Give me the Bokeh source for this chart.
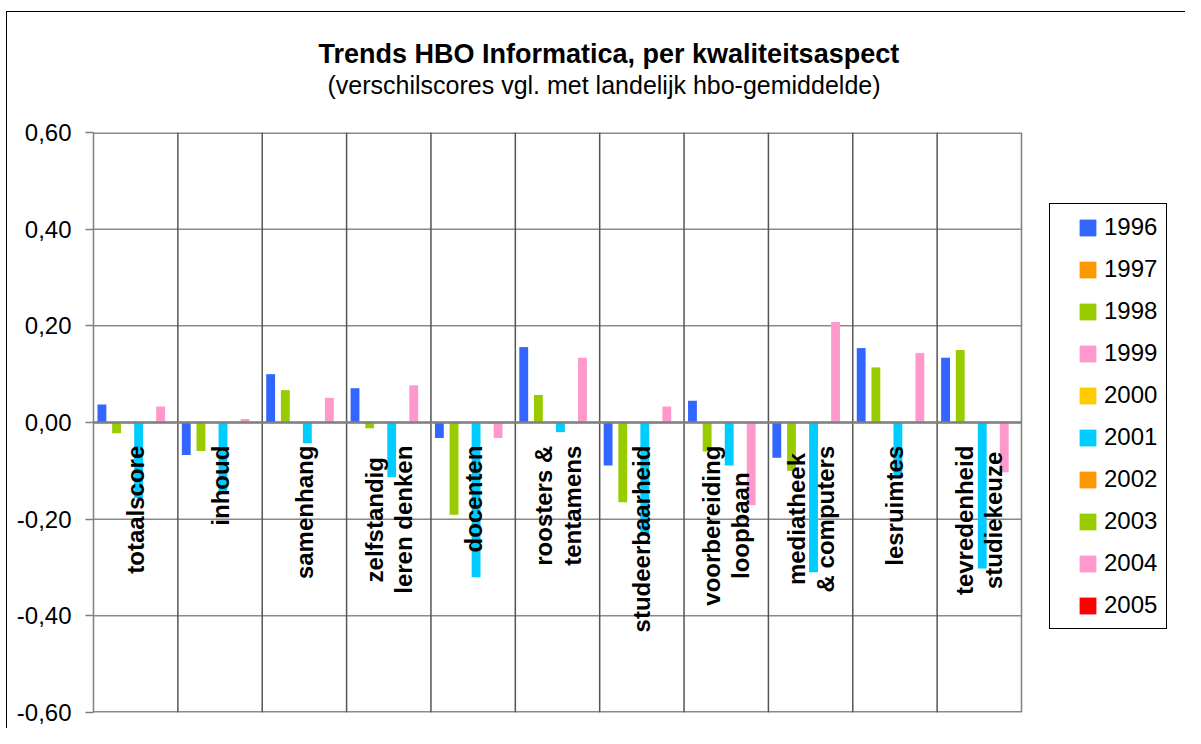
import math
from bokeh.plotting import figure
from bokeh.models import (ColumnDataSource, Range1d, FixedTicker,
                          CustomJSTickFormatter, Span, Legend, LegendItem, Title,
                          InlineStyleSheet)
from bokeh.transform import dodge
from bokeh.core.properties import value
from bokeh.embed import file_html
from bokeh.resources import INLINE

# ---------------- data ----------------
categories = ["totaalscore", "inhoud", "samenhang", "zelfstandig\nleren denken",
              "docenten", "roosters &\ntentamens", "studeerbaarheid",
              "voorbereiding\nloopbaan", "mediatheek\n& computers", "lesruimtes",
              "tevredenheid\nstudiekeuze"]
years = ["1996", "1997", "1998", "1999", "2000", "2001", "2002", "2003", "2004", "2005"]
colors = ["#3366FF", "#FF9900", "#99CC00", "#FF99CC", "#FFCC00",
          "#00CCFF", "#FF9900", "#99CC00", "#FF99CC", "#FF0000"]

v1996 = [0.037, -0.067, 0.100, 0.071, -0.032, 0.156, -0.089, 0.045, -0.073, 0.154, 0.134]
v1997 = [None] * 11
v1998 = [-0.022, -0.059, 0.067, -0.012, -0.191, 0.057, -0.165, -0.060, -0.100, 0.114, 0.150]
v1999 = [None] * 11
v2000 = [None] * 11
v2001 = [-0.156, -0.146, -0.043, -0.113, -0.320, -0.020, -0.232, -0.089, -0.310, -0.110, -0.302]
v2002 = [None] * 11
v2003 = [None] * 11
v2004 = [0.033, 0.007, 0.051, 0.077, -0.032, 0.134, 0.033, -0.171, 0.208, 0.144, -0.103]
v2005 = [None] * 11
series = [v1996, v1997, v1998, v1999, v2000, v2001, v2002, v2003, v2004, v2005]

y_ticks = [-0.6, -0.4, -0.2, 0, 0.2, 0.4, 0.6]
title_text = "Trends HBO Informatica, per kwaliteitsaspect"
subtitle_text = "(verschilscores vgl. met landelijk hbo-gemiddelde)"

FONT = "Liberation Sans"
GRID = "#8a8a8a"

# ---------------- figure ----------------
W, H = 1185, 728
LEFT, TOP, BOTTOM = 93, 132, 16
n_cat = len(categories)
px_per_cat = 928.0 / n_cat          # plot-area width of the categories
x_end = (W - LEFT) / px_per_cat     # frame extends under the legend area

p = figure(width=W, height=H,
           x_range=Range1d(0, x_end), y_range=Range1d(-0.6, 0.6),
           output_backend="svg", toolbar_location=None, x_axis_location=None,
           min_border_left=LEFT, min_border_right=0, min_border_top=TOP,
           min_border_bottom=BOTTOM)
p.title.visible = False
p.background_fill_color = "white"
p.border_fill_color = "white"
p.outline_line_color = None
p.xgrid.visible = False
p.ygrid.visible = False

# outer chart border (top and left edges)
p.stylesheets = [InlineStyleSheet(css=(
    ":host{position:relative;}"
    ":host::after{content:'';position:absolute;left:6px;top:11px;right:0;bottom:0;"
    "border-top:1.5px solid #000;border-left:1.5px solid #000;pointer-events:none;}"))]

ax = p.yaxis[0]
ax.ticker = FixedTicker(ticks=y_ticks)
ax.formatter = CustomJSTickFormatter(code="return tick.toFixed(2).replace('.', ',');")
ax.major_label_text_font = FONT
ax.major_label_text_font_size = "24px"
ax.major_label_text_color = "black"
ax.axis_line_color = "#808080"
ax.axis_line_width = 1.5
ax.major_tick_line_color = "#808080"
ax.major_tick_line_width = 1.5
ax.major_tick_out = 8
ax.major_tick_in = 0
ax.minor_tick_out = 0
ax.minor_tick_in = 0
ax.major_label_standoff = 14

# horizontal gridlines limited to the plot area (edges drawn thicker: half is clipped)
inner = [t for t in y_ticks if t not in (y_ticks[0], y_ticks[-1])]
edges = [y_ticks[0], y_ticks[-1]]
p.segment(x0=0, x1=n_cat, y0=inner, y1=inner, line_color=GRID, line_width=1.5,
          level="underlay")
p.segment(x0=0, x1=n_cat, y0=edges, y1=edges, line_color=GRID, line_width=3,
          level="underlay")

# category separators and right edge of the plot area
for k in range(1, n_cat):
    p.add_layout(Span(location=k, dimension="height", line_color="#555555",
                      line_width=1.5, level="underlay"))
p.add_layout(Span(location=n_cat, dimension="height", line_color="#808080",
                  line_width=1.5, level="underlay"))

# bars
data = {"cat": categories, "xc": [i + 0.5 for i in range(n_cat)]}
for yr, vals in zip(years, series):
    data["y" + yr] = [float("nan") if v is None else v for v in vals]
src = ColumnDataSource(data)

slot = 0.087
bar_w = 0.105
items = []
for i, (yr, col) in enumerate(zip(years, colors)):
    r = p.vbar(x=dodge("xc", (i - 4.6) * slot), top="y" + yr,
               bottom=0, width=bar_w, source=src, fill_color=col, line_color=None)
    items.append(LegendItem(label=yr, renderers=[r]))

# zero line (category axis)
p.segment(x0=0, x1=n_cat, y0=0, y1=0, line_color="#808080", line_width=2.5)

# category labels (rotated, centred lines)
BOLD_W = {"a": 556, "b": 611, "c": 556, "d": 611, "e": 556, "f": 333, "g": 611,
          "h": 611, "i": 278, "j": 278, "k": 556, "l": 278, "m": 889, "n": 611,
          "o": 611, "p": 611, "q": 611, "r": 389, "s": 556, "t": 333, "u": 611,
          "v": 556, "w": 778, "x": 556, "y": 556, "z": 500, " ": 278, "&": 722}
LBL_SIZE = 24


def tw(s):
    return sum(BOLD_W.get(c, 556) for c in s) * LBL_SIZE / 1000.0


lx, ltxt, lxo, lyo = [], [], [], []
for i, c in enumerate(categories):
    lines = c.split("\n")
    lmax = max(tw(l) for l in lines)
    n = len(lines)
    for j, line in enumerate(lines):
        lx.append(i + 0.5)
        ltxt.append(line)
        lxo.append((j - (n - 1) / 2.0) * 29)
        lyo.append((lmax - tw(line)) / 2.0)
lsrc = ColumnDataSource(dict(x=lx, text=ltxt, xo=lxo, yo=lyo))
p.text(x="x", y=-0.048, text="text", x_offset="xo", y_offset="yo", source=lsrc,
       angle=math.pi / 2, text_align="right", text_baseline="middle",
       text_font=value(FONT), text_font_style="bold", text_font_size="24px",
       text_color="black")

# titles: spacer nearest the plot, then subtitle, then main title
p.add_layout(Title(text=" ", standoff=31, text_font=FONT, text_font_size="1px"),
             "above")
p.add_layout(Title(text=subtitle_text, align="left", offset=234, standoff=0,
                   text_font=FONT, text_font_size="25px", text_font_style="normal",
                   text_color="black"), "above")
p.add_layout(Title(text=title_text, align="left", offset=225, standoff=0,
                   text_font=FONT, text_font_size="27px", text_font_style="bold",
                   text_color="black"), "above")

# legend (inside the extended frame, right of the plot area)
legend = Legend(items=items, location=(956, 83), padding=9, spacing=14,
                glyph_width=21, glyph_height=21, label_height=28, label_standoff=6,
                title=" ", title_location="left", title_text_font_size="2px",
                title_standoff=16,
                label_text_font=FONT, label_text_font_size="24px",
                label_text_color="black", border_line_color="black",
                border_line_width=1.2, border_line_alpha=1.0,
                background_fill_color="white", background_fill_alpha=1.0,
                margin=0)
p.add_layout(legend)

open("out.html", "w").write(file_html(p, INLINE))
